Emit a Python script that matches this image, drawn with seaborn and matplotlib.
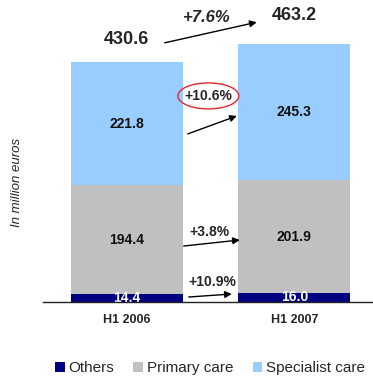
import matplotlib
matplotlib.use("Agg")
import matplotlib.pyplot as plt
from matplotlib.patches import Ellipse, Patch
import numpy as np
import pandas as pd
import seaborn as sns

# Revenue split by segment, in million euros
periods = ["H1 2006", "H1 2007"]
others = [14.4, 16.0]
primary_care = [194.4, 201.9]
specialist_care = [221.8, 245.3]
totals = [430.6, 463.2]
growth_total = "+7.6%"
growth_specialist = "+10.6%"
growth_primary = "+3.8%"
growth_others = "+10.9%"

series_names = ["Others", "Primary care", "Specialist care"]
colors = {"Others": "#000080", "Primary care": "#C0C0C0", "Specialist care": "#99CCFF"}

sns.set_style("white")
plt.rcParams["font.family"] = ["Liberation Sans", "DejaVu Sans"]

fig = plt.figure(figsize=(3.73, 3.78), dpi=100)
ax = fig.add_axes([43 / 373, 0.2019, 1 - 43 / 373, 0.7806])

# cumulative heights so the stacked bars can be drawn back to front
others_arr = np.array(others)
prim_top = others_arr + np.array(primary_care)
spec_top = prim_top + np.array(specialist_care)

df = pd.DataFrame({
    "period": periods * 3,
    "layer": ["Specialist care"] * 2 + ["Primary care"] * 2 + ["Others"] * 2,
    "top": list(spec_top) + list(prim_top) + list(others_arr),
})

bar_w = 0.669
for layer in ["Specialist care", "Primary care", "Others"]:
    sub = df[df["layer"] == layer]
    sns.barplot(data=sub, x="period", y="top", color=colors[layer], width=bar_w,
                errorbar=None, linewidth=0, saturation=1, ax=ax, order=periods)

ax.set_xlim(-0.5, 1.47)
ax.set_ylim(0, 530)
ax.set_xlabel("")
ax.set_ylabel("")
ax.set_yticks([])
for s in ["left", "right", "top"]:
    ax.spines[s].set_visible(False)
ax.spines["bottom"].set_color("#222222")
ax.spines["bottom"].set_linewidth(1.0)
ax.spines["bottom"].set_zorder(5)
ax.tick_params(axis="x", length=0, pad=9)
for lbl in ax.get_xticklabels():
    lbl.set_fontweight("bold")
    lbl.set_fontsize(9)

# segment value labels
for i in range(2):
    ax.text(i, others[i] / 2, f"{others[i]:.1f}", ha="center", va="center",
            color="white", fontsize=10, fontweight="bold", zorder=4)
    ax.text(i, others[i] + primary_care[i] / 2, f"{primary_care[i]:.1f}", ha="center",
            va="center", color="#111111", fontsize=10, fontweight="bold")
    ax.text(i, prim_top[i] + specialist_care[i] / 2, f"{specialist_care[i]:.1f}",
            ha="center", va="center", color="#111111", fontsize=10, fontweight="bold")

# totals above the bars
total_offsets = [40, 50]
for i in range(2):
    ax.text(i, totals[i] + total_offsets[i], f"{totals[i]:.1f}", ha="center", va="center",
            fontsize=13, fontweight="bold", clip_on=False)

arrow_kw = dict(arrowstyle="-|>", color="black", lw=1.0, mutation_scale=10,
                shrinkA=0, shrinkB=0)

# total growth
ax.annotate("", xy=(0.776, 502), xytext=(0.227, 465), arrowprops=arrow_kw, annotation_clip=False)
ax.text(0.478, 511, growth_total, ha="center", va="center", fontsize=12,
        fontweight="bold", fontstyle="italic", clip_on=False)

# specialist care growth, circled
ax.add_patch(Ellipse((0.487, 369.6), 0.364, 46.7, fill=False, edgecolor="#E8262B", lw=1.0))
ax.text(0.487, 369.6, growth_specialist, ha="center", va="center", fontsize=10, fontweight="bold")
ax.annotate("", xy=(0.657, 333.6), xytext=(0.364, 301.3), arrowprops=arrow_kw)

# primary care growth
ax.text(0.496, 125.7, growth_primary, ha="center", va="center", fontsize=10, fontweight="bold")
ax.annotate("", xy=(0.675, 110.8), xytext=(0.34, 100), arrowprops=arrow_kw)

# others growth
ax.text(0.513, 36, growth_others, ha="center", va="center", fontsize=10, fontweight="bold")
ax.annotate("", xy=(0.627, 13.8), xytext=(0.370, 8.4), arrowprops=arrow_kw)

fig.text(17 / 373, 1 - 182 / 378, "In million euros", rotation=90, ha="center", va="center",
         fontsize=9.5, fontstyle="italic")

handles = [Patch(facecolor=colors[n], edgecolor="none", label=n) for n in series_names]
fig.legend(handles=handles, loc="center", bbox_to_anchor=(0.563, 1 - 368 / 378), ncol=3,
           frameon=False, fontsize=11, handlelength=0.65, handleheight=0.65,
           handletextpad=0.26, columnspacing=1.24, borderaxespad=0, borderpad=0)

fig.savefig("out.png", dpi=100)
